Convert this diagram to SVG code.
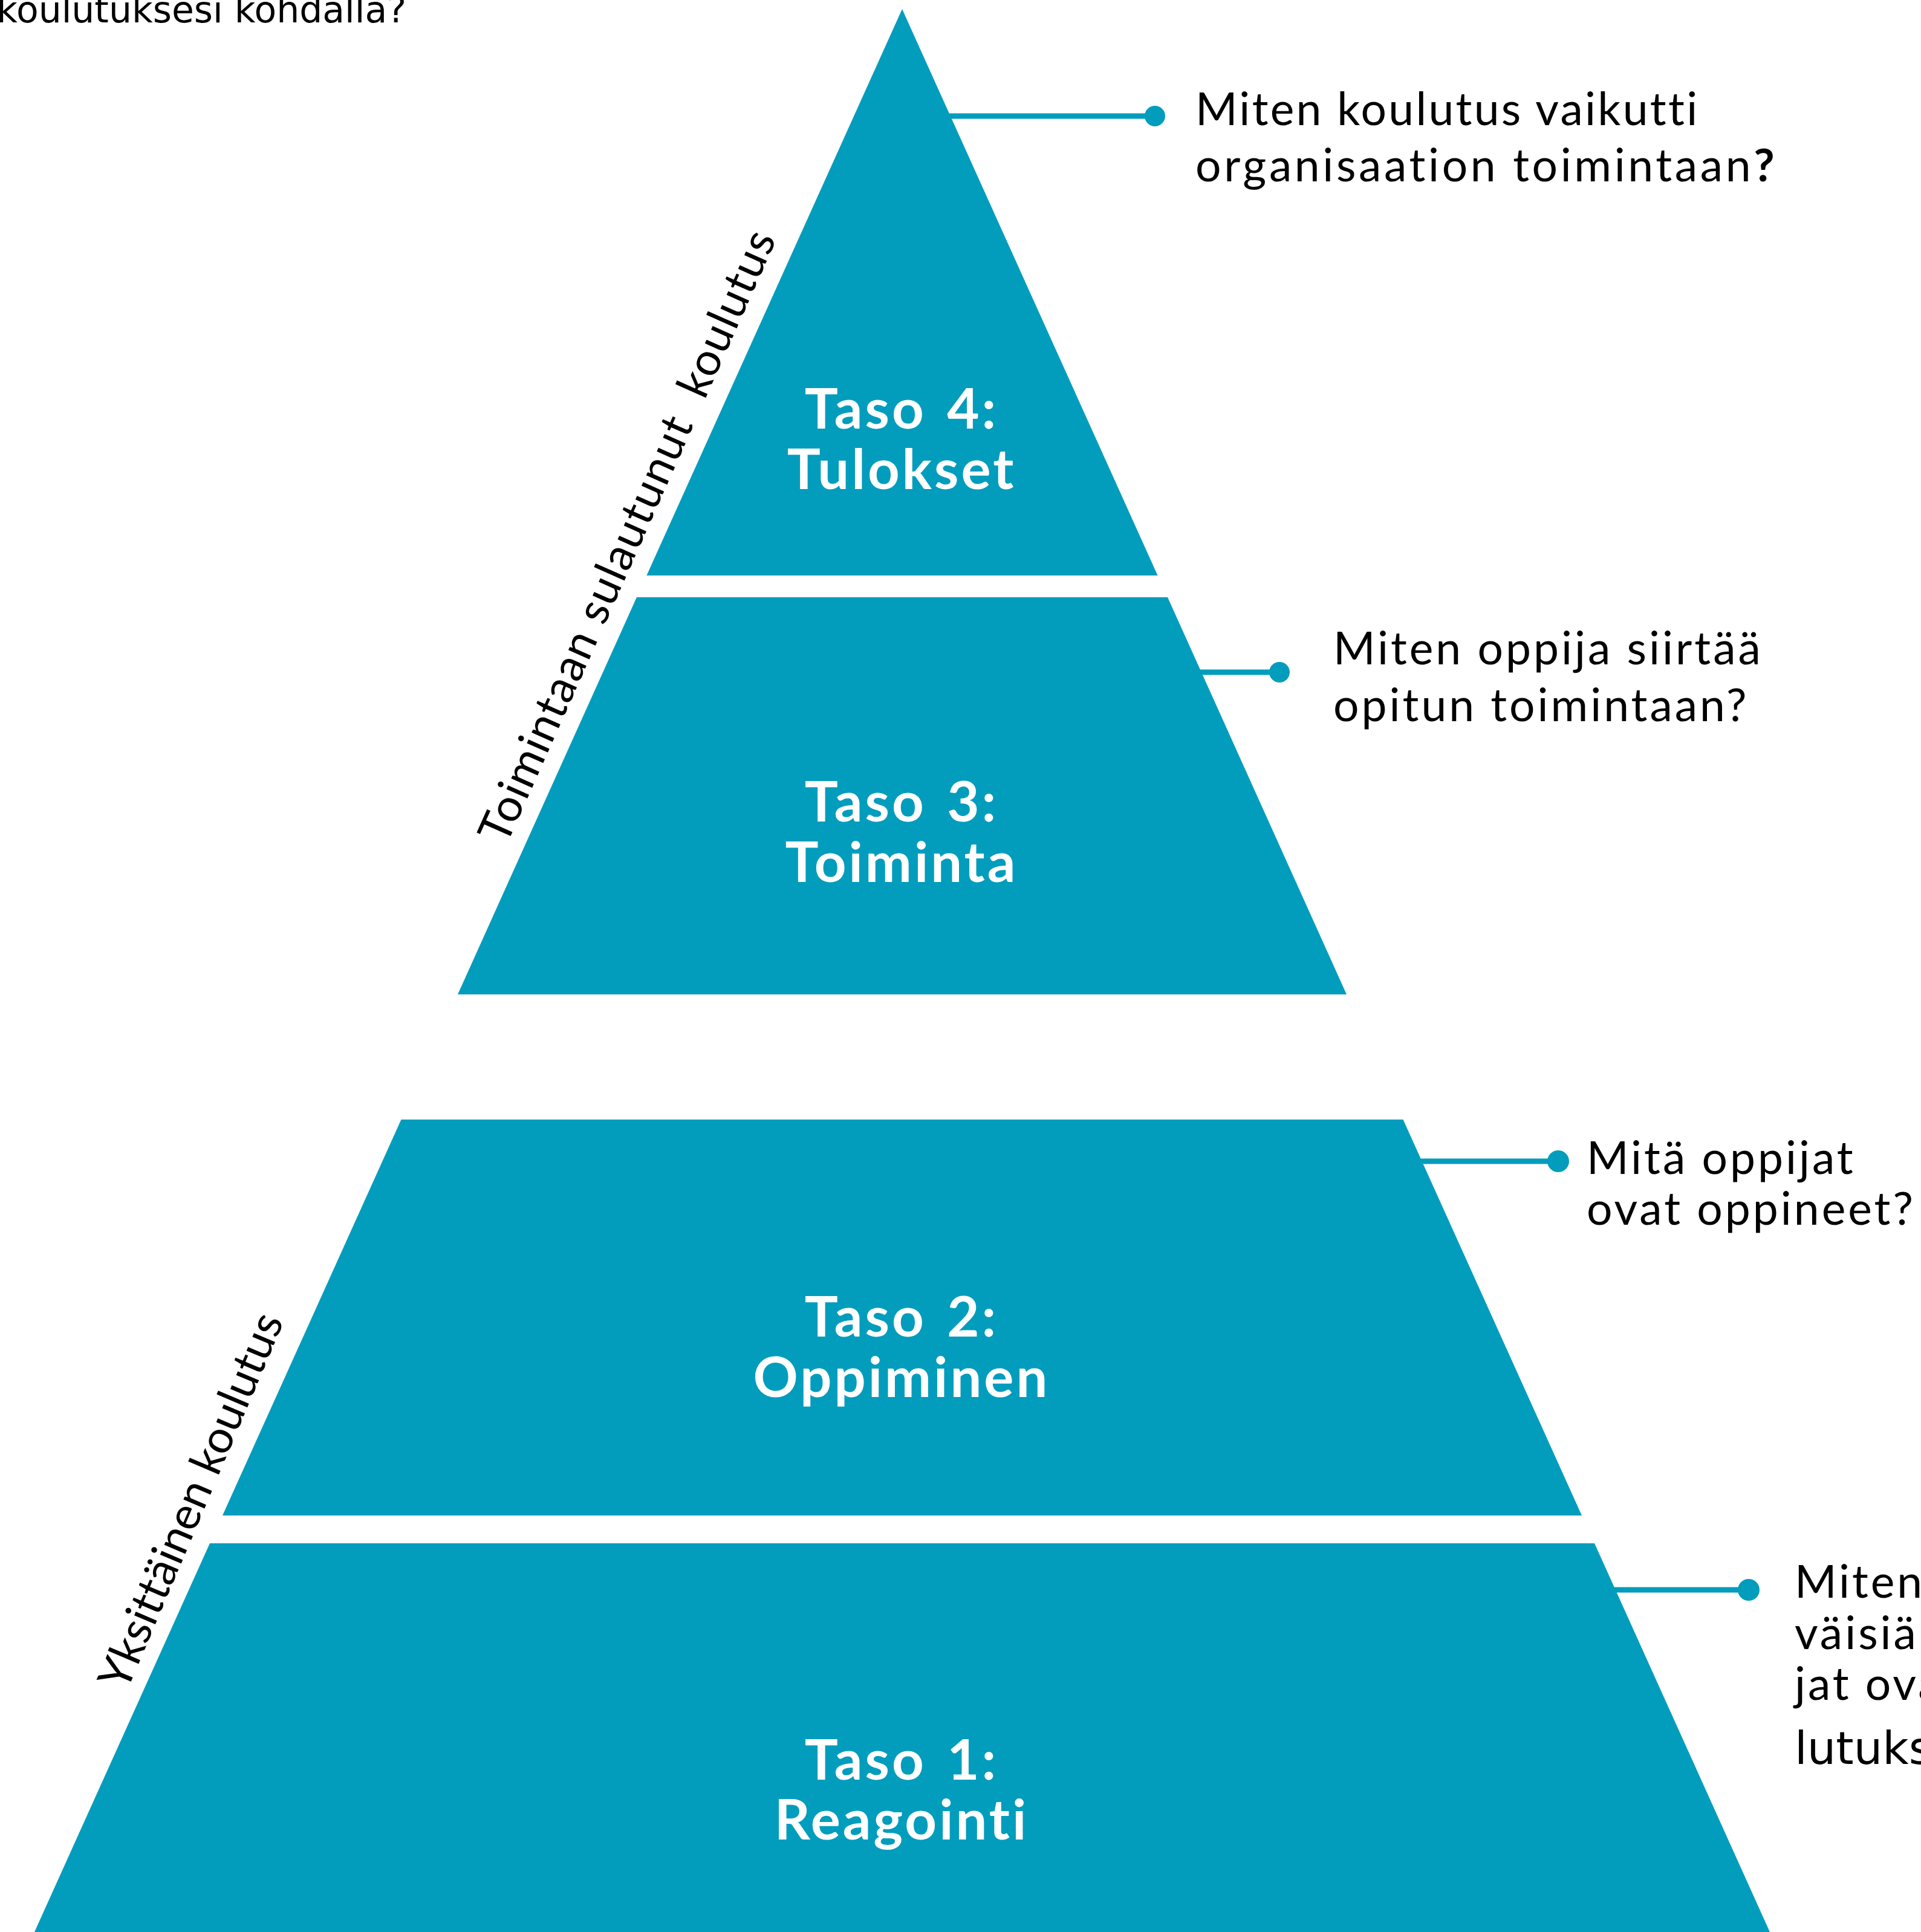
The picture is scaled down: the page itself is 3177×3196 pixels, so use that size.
<svg xmlns="http://www.w3.org/2000/svg" width="3177" height="3196" viewBox="0 0 3177 3196">
  <style>
    text { font-variant-ligatures: none; }
    .tier { fill: #029dbd; }
    .title { font-family: Lato, "Noto Sans", sans-serif; font-weight: 700; font-size: 92px; letter-spacing: 4px; word-spacing: 8px; fill: #ffffff; text-anchor: middle; }
    .q { font-family: Lato, "Noto Sans", sans-serif; font-size: 75px; letter-spacing: 4px; fill: #000000; }
    .side { font-family: Lato, "Noto Sans", sans-serif; font-size: 75px; fill: #000000; white-space: pre; }
    .lead { stroke: #029dbd; stroke-width: 9; fill: none; }
    .dot { fill: #029dbd; }
  </style>
  <rect width="3177" height="3196" fill="#ffffff"/>

  <!-- trailing line of a question printed above -->
  <text x="672" y="37" text-anchor="end" style="font-family:'DejaVu Sans',sans-serif;font-size:60px;fill:#000">koulutuksesi kohdalla?</text>

  <!-- level 4 -->
  <g id="taso4">
    <polygon class="tier" points="1492,15 1914.6,952 1069.4,952"/>
    <text class="title" x="1491" y="709">Taso 4:</text>
    <text class="title" x="1491" y="809">Tulokset</text>
  </g>

  <!-- level 3 -->
  <g id="taso3">
    <polygon class="tier" points="1053,988 1931,988 2227,1645 757,1645"/>
    <text class="title" x="1491" y="1359">Taso 3:</text>
    <text class="title" x="1491" y="1459">Toiminta</text>
  </g>

  <!-- level 2 -->
  <g id="taso2">
    <polygon class="tier" points="663.5,1852 2320.5,1852 2616,2507 368,2507"/>
    <text class="title" x="1491" y="2211">Taso 2:</text>
    <text class="title" x="1491" y="2311">Oppiminen</text>
  </g>

  <!-- level 1 -->
  <g id="taso1">
    <polygon class="tier" points="347,2553 2637,2553 2927,3196 57,3196"/>
    <text class="title" x="1491" y="2944">Taso 1:</text>
    <text class="title" x="1491" y="3043">Reagointi</text>
  </g>

  <!-- side labels along the left slope -->
  <g id="label-upper">
    <text class="side" xml:space="preserve" style="letter-spacing:1.7px" transform="translate(837,1400) rotate(-66)">Toimintaan sulautunut  koulutus</text>
  </g>
  <g id="label-lower">
    <text class="side" transform="translate(209,2800) rotate(-67)">Yksittäinen koulutus</text>
  </g>

  <!-- leader lines from the slope to the questions -->
  <g id="connectors">
    <line class="lead" x1="1570" y1="192" x2="1910" y2="192"/>
    <circle class="dot" cx="1910" cy="192" r="17"/>
    <line class="lead" x1="1985" y1="1112" x2="2116" y2="1112"/>
    <circle class="dot" cx="2116" cy="1112" r="17"/>
    <line class="lead" x1="2350" y1="1921" x2="2577" y2="1921"/>
    <circle class="dot" cx="2577" cy="1921" r="18"/>
    <line class="lead" x1="2669" y1="2630" x2="2892" y2="2630"/>
    <circle class="dot" cx="2892" cy="2630" r="18"/>
  </g>

  <!-- questions -->
  <g id="q4">
    <text class="q" x="1977" y="207" style="letter-spacing:3.3px">Miten koulutus vaikutti</text>
    <text class="q" x="1977" y="300" style="letter-spacing:4.65px">organisaation toimintaan<tspan font-weight="700">?</tspan></text>
  </g>
  <g id="q3">
    <text class="q" x="2205" y="1099">Miten oppija siirtää</text>
    <text class="q" x="2205" y="1193">opitun toimintaan?</text>
  </g>
  <g id="q2">
    <text class="q" x="2624" y="1942">Mitä oppijat</text>
    <text class="q" x="2624" y="2026">ovat oppineet?</text>
  </g>
  <g id="q1">
    <text class="q" x="2968" y="2643">Miten</text>
    <text class="q" x="2968" y="2728">väisiä</text>
    <text class="q" x="2968" y="2812">jat ova</text>
    <text class="q" x="2968" y="2918" style="font-family:'DejaVu Sans',sans-serif;letter-spacing:0">lutuks</text>
  </g>
</svg>
